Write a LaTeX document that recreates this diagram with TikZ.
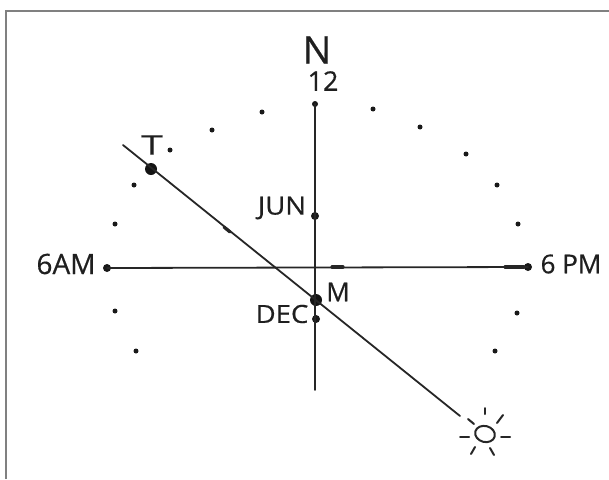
\documentclass[tikz,border=0pt]{standalone}
\usepackage{fontspec}
\setmainfont[FakeBold=0.5]{Open Sans}
\tikzset{
  ink/.style={draw=black!85,line width=1.8pt,line cap=round},
  frameline/.style={draw=black!50,line width=1.6pt},
  tick/.style={ink,line width=3.2pt},
  hour/.style={circle,fill=black!90,inner sep=0pt,minimum size=5pt},
  bigdot/.style={circle,fill=black!92,inner sep=0pt,minimum size=12pt},
  middot/.style={circle,fill=black!90,inner sep=0pt,minimum size=8pt},
  lab/.style={inner sep=0pt,text=black!88}
}
\begin{document}
\begin{tikzpicture}[x=1pt,y=-1pt]
\useasboundingbox (0,0) rectangle (609,479);
\draw[frameline] (6,479) -- (6,11) -- (609,11);
% hour dots
\foreach \n/\x/\y in {h1/136/351,h2/115/311,h3/115/224,h4/134/185,h5/170/150,h6/212/130,h7/262/112,h8/373/109,h9/420/127,h10/466/154,h11/497/185,h12/518/224,h13/517/313,h14/495/351}
  \node[hour] (\n) at (\x,\y) {};
% main points
\node[middot,minimum size=6pt] (twelve) at (315,104) {};
\node[middot] (jun) at (315,216) {};
\node[middot] (dec) at (316,319) {};
\node[bigdot] (moon) at (316,300) {};
\node[bigdot] (tp) at (151,169) {};
\node[middot] (am) at (107,268) {};
\node[middot] (pm) at (528,267) {};
\coordinate (south) at (315,390);
\coordinate (linestart) at (123,145);
\coordinate (lineend) at (460,416);
% axes
\draw[ink] (twelve.center) -- (south);
\draw[ink] (am.center) -- (pm.center);
\draw[ink] (linestart) -- (lineend);
\coordinate (t1a) at (332,267); \coordinate (t1b) at (343,267);
\coordinate (t2a) at (505,267); \coordinate (t2b) at (524,267);
\coordinate (t3a) at (224,227); \coordinate (t3b) at (230,232);
\draw[tick] (t1a) -- (t1b);
\draw[tick] (t2a) -- (t2b);
\draw[tick] (t3a) -- (t3b);
% sun
\draw[ink,line width=2pt,rotate around={-15:(485,434)}] (485,434) ellipse [x radius=10,y radius=8];
\foreach \i/\ax/\ay/\bx/\by in {1/485/408/485/414,2/503/415/497/423,3/501/437/510/437,4/490/448/494/455,5/475/447/471/454,6/460/437/469/437,7/468/419/474/424}{
  \coordinate (r\i a) at (\ax,\ay); \coordinate (r\i b) at (\bx,\by);
  \draw[ink,line width=2pt] (r\i a) -- (r\i b);
}
% labels
\node[lab,font=\fontsize{38}{38}\selectfont] (lN) at (317,50) {N};
\node[lab,font=\fontsize{27}{27}\selectfont] (l12) at (323,81) {12};
\node[lab,font=\fontsize{27}{27}\selectfont,xscale=1.45] (lT) at (152,145) {T};
\node[lab,font=\fontsize{25}{25}\selectfont,xscale=1.1] (lJ) at (282,208) {JUN};
\node[lab,font=\fontsize{25}{25}\selectfont,xscale=1.1] (lD) at (282,314) {DEC};
\node[lab,font=\fontsize{26}{26}\selectfont] (lM) at (338,292) {M};
\node[lab,font=\fontsize{28}{28}\selectfont] (lA) at (66,264) {6AM};
\node[lab,font=\fontsize{26}{26}\selectfont] (lP) at (571,264) {6 PM};
\end{tikzpicture}
\end{document}
